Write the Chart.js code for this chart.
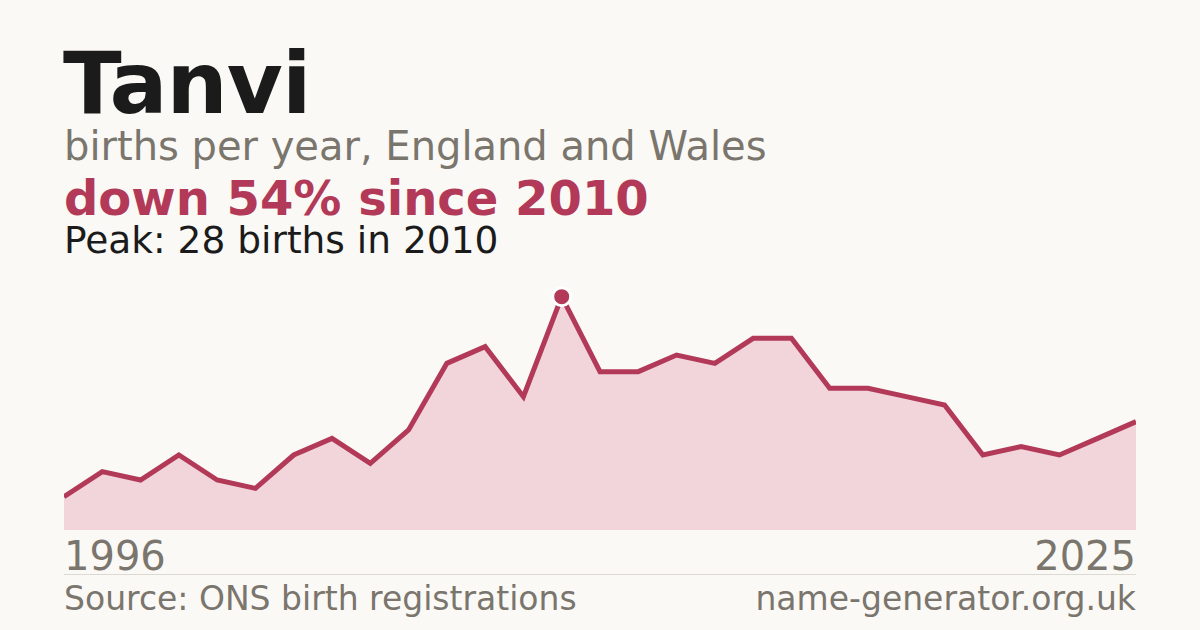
<!DOCTYPE html>
<html>
<head>
<meta charset="utf-8">
<script src="https://cdn.jsdelivr.net/npm/chart.js@4.4.1/dist/chart.umd.min.js"></script>
<style>
  html, body {
    margin: 0;
    padding: 0;
    background: #faf9f5;
  }
  body {
    width: 1200px;
    height: 630px;
    position: relative;
    overflow: hidden;
    font-family: "DejaVu Sans", sans-serif;
  }
  .txt {
    position: absolute;
    line-height: 1;
    white-space: nowrap;
  }
  #name {
    left: 63px;
    top: 40px;
    font-size: 86px;
    font-weight: bold;
    letter-spacing: -1px;
    color: #1b1b1b;
  }
  #sub {
    left: 64px;
    top: 126px;
    font-size: 40px;
    color: #7a756d;
  }
  #change {
    left: 64px;
    top: 174px;
    font-size: 48px;
    font-weight: bold;
    color: #b23a58;
  }
  #peak {
    left: 64px;
    top: 222px;
    font-size: 37.5px;
    color: #1b1b1b;
  }
  .year {
    top: 536px;
    font-size: 40px;
    color: #7a756d;
  }
  #yStart { left: 64px; }
  #yEnd { right: 64px; }
  #rule {
    position: absolute;
    left: 64px;
    width: 1072px;
    top: 574px;
    height: 1px;
    background: #dcd9d2;
  }
  .foot {
    top: 582px;
    font-size: 33px;
    color: #7a756d;
  }
  #source { left: 64px; }
  #site { right: 64px; }
  #wrap {
    position: absolute;
    left: 64px;
    top: 280px;
    width: 1072px;
    height: 250px;
  }
</style>
</head>
<body>
<div class="txt" id="name"></div>
<div class="txt" id="sub"></div>
<div class="txt" id="change"></div>
<div class="txt" id="peak"></div>
<div id="wrap"><canvas id="chart"></canvas></div>
<div class="txt year" id="yStart"></div>
<div class="txt year" id="yEnd"></div>
<div id="rule"></div>
<div class="txt foot" id="source"></div>
<div class="txt foot" id="site"></div>

<script>
const babyName = "Tanvi";
const subtitle = "births per year, England and Wales";
const changeText = "down 54% since 2010";
const peakText = "Peak: 28 births in 2010";
const sourceText = "Source: ONS birth registrations";
const siteText = "name-generator.org.uk";

// end labels under the chart
const axisLabels = ["1996", "2025"];

const years = [
  "1997", "1998", "1999", "2000", "2001", "2002", "2003", "2004", "2005", "2006",
  "2007", "2008", "2009", "2010", "2011", "2012", "2013", "2014", "2015", "2016",
  "2017", "2018", "2019", "2020", "2021", "2022", "2023", "2024", "2025"
];
const births = [
  4, 7, 6, 9, 6, 5, 9, 11, 8, 12,
  20, 22, 16, 28, 19, 19, 21, 20, 23, 23,
  17, 17, 16, 15, 9, 10, 9, 11, 13
];

const crimson = "#b23a58";
const pink = "#f1d5db";

document.querySelector("#name").textContent = babyName;
document.querySelector("#sub").textContent = subtitle;
document.querySelector("#change").textContent = changeText;
document.querySelector("#peak").textContent = peakText;
document.querySelector("#yStart").textContent = axisLabels[0];
document.querySelector("#yEnd").textContent = axisLabels[1];
document.querySelector("#source").textContent = sourceText;
document.querySelector("#site").textContent = siteText;

// only the peak gets a dot
const peakIndex = births.indexOf(Math.max(...births));
const pointSizes = births.map((v, i) => (i === peakIndex ? 9 : 0));

const ctx = document.getElementById("chart").getContext("2d");

const chart = new Chart(ctx, {
  type: "line",
  data: {
    labels: years,
    datasets: [
      {
        data: births,
        borderColor: crimson,
        backgroundColor: pink,
        borderWidth: 5,
        fill: "origin",
        tension: 0,
        pointRadius: pointSizes,
        pointHoverRadius: pointSizes,
        pointBackgroundColor: crimson,
        pointBorderColor: "#ffffff",
        pointBorderWidth: 3,
      },
    ],
  },
  options: {
    responsive: true,
    maintainAspectRatio: false,
    animation: false,
    layout: { padding: 0 },
    plugins: {
      legend: { display: false },
      tooltip: { enabled: false },
    },
    scales: {
      x: { display: false, offset: false },
      y: { display: false, min: 0, max: 30 },
    },
  },
});
</script>
</body>
</html>
